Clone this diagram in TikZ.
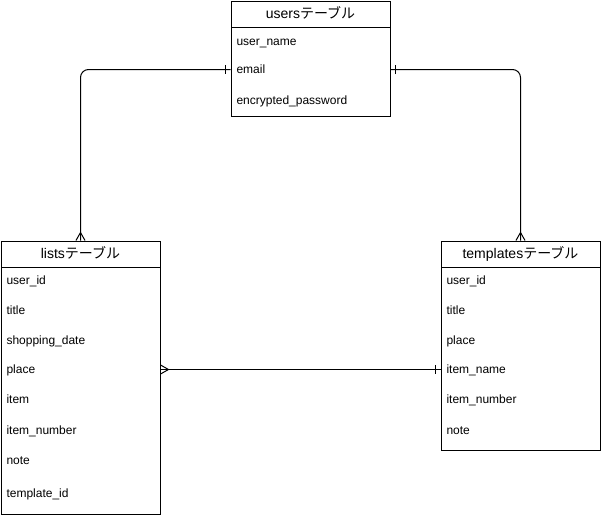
\documentclass[tikz,border=0pt]{standalone}
\usepackage{fontspec}
\setmainfont{Liberation Sans}
\newfontfamily\jpfont{Noto Sans CJK JP}
\usetikzlibrary{decorations.markings}

\tikzset{
  tablehead/.style={draw, anchor=north west, minimum width=119.25pt,
    minimum height=19.5pt, inner sep=0pt, text height=8pt, text depth=1.5pt,
    font=\fontsize{10.5}{12}\selectfont},
  tablebody/.style={draw, anchor=north west, minimum width=119.25pt,
    inner sep=0pt},
  field/.style={anchor=west, inner sep=0pt, text height=6.5pt,
    text depth=0pt, font=\fontsize{9}{11}\selectfont},
  relation/.style={draw},
  one/.style={postaction={decorate, decoration={markings,
    mark=at position 3.5pt with {\draw (0,-3.5pt) -- (0,3.5pt);}}}},
  many/.style={postaction={decorate, decoration={markings,
    mark=at position -6pt with
      {\draw [sharp corners] (6pt,3.4pt) -- (0,0) -- (6pt,-3.4pt);}}}},
}

\begin{document}
\begin{tikzpicture}[x=0.75pt, y=-0.75pt, line width=0.75pt]
\useasboundingbox (0,0) rectangle (601,518);

% users
\node [tablehead] (usershead) at (230.5,0.5) {users\jpfont テーブル};
\node [tablebody, minimum height=66.75pt] (usersbody) at (230.5,26.5) {};
\foreach \nm/\txt/\yy in {username/user\_name/41, email/email/69.5,
  password/encrypted\_password/100}
  \node [field] (u\nm) at (236,\yy) {\txt};

% lists
\node [tablehead] (listshead) at (0.5,240.5) {lists\jpfont テーブル};
\node [tablebody, minimum height=185.25pt] (listsbody) at (0.5,266.5) {};
\foreach \nm/\txt/\yy in {userid/user\_id/280, title/title/310,
  date/shopping\_date/340, place/place/369.5, item/item/399.5,
  number/item\_number/430, note/note/460, templateid/template\_id/493}
  \node [field] (l\nm) at (6,\yy) {\txt};

% templates
\node [tablehead] (templateshead) at (440.5,240.5) {templates\jpfont テーブル};
\node [tablebody, minimum height=137.25pt] (templatesbody) at (440.5,266.5) {};
\foreach \nm/\txt/\yy in {userid/user\_id/280, title/title/310,
  place/place/340, itemname/item\_name/369.5, number/item\_number/399.5,
  note/note/430}
  \node [field] (t\nm) at (446,\yy) {\txt};

% relations
\draw [relation, one, many, rounded corners=6pt]
  (usersbody.west |- uemail) -| (listshead.north);
\draw [relation, one, many, rounded corners=6pt]
  (usersbody.east |- uemail) -| (templateshead.north);
\draw [relation, one, many]
  (templatesbody.west |- titemname) -- (listsbody.east |- lplace);
\end{tikzpicture}
\end{document}
